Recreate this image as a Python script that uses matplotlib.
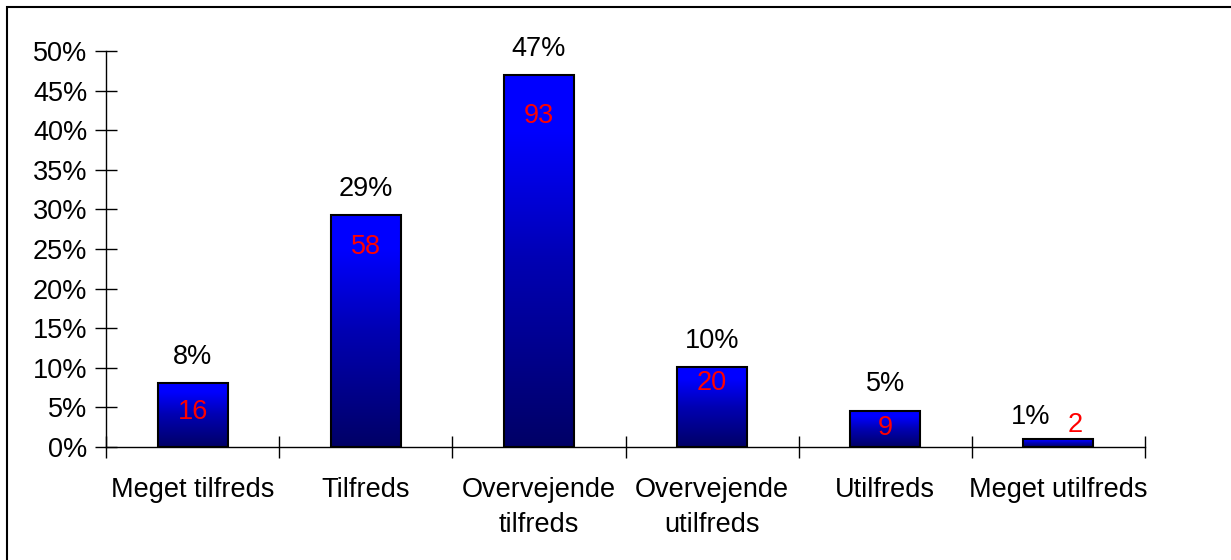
import numpy as np
import matplotlib
matplotlib.use("Agg")
import matplotlib.pyplot as plt
from matplotlib.patches import Rectangle
from matplotlib.ticker import FuncFormatter, FixedLocator

plt.rcParams['font.family'] = ['Liberation Sans', 'DejaVu Sans']

# data
categories = ["Meget tilfreds", "Tilfreds", "Overvejende\ntilfreds",
              "Overvejende\nutilfreds", "Utilfreds", "Meget utilfreds"]
percent = [8.1, 29.3, 47.0, 10.1, 4.5, 1.0]
pct_labels = ["8%", "29%", "47%", "10%", "5%", "1%"]
counts = [16, 58, 93, 20, 9, 2]

# label placement (pixels relative to bar top), style only
count_dy = [-29, -32, -41, -16, -17, 14]
count_dx = [0, 0, 0, 0, 0, 17]
pct_dx = [0, 0, 0, 0, 0, -28]
pct_dy = [26, 26, 26, 26, 27, 22]

W, H = 1231, 560
fig = plt.figure(figsize=(W / 100, H / 100), dpi=100)
ax = fig.add_axes([106 / W, 1 - 447 / H, (1145 - 106) / W, (447 - 51) / H])

x = np.arange(len(categories))
bars = ax.bar(x, percent, width=0.405, color='none', edgecolor='black',
              linewidth=1.5, zorder=3)

# vertical gradient inside each bar: bright blue on top -> navy at bottom
grad = np.linspace(0, 1, 256).reshape(-1, 1)
cmap = matplotlib.colors.LinearSegmentedColormap.from_list(
    "bluegrad", [(0.0, (0, 0, 0.40)), (0.5, (0, 0, 0.70)),
                 (0.85, (0, 0, 1.0)), (1.0, (0, 0, 1.0))])
for b in bars:
    x0, y0 = b.get_x(), b.get_y()
    w, h = b.get_width(), b.get_height()
    im = ax.imshow(grad, extent=[x0, x0 + w, y0, y0 + h], origin='lower',
                   cmap=cmap, aspect='auto', zorder=2)
    im.set_clip_path(b)

ax.set_xlim(-0.5, len(categories) - 0.5)
ax.set_ylim(0, 50)

# labels
fs = 19.5
for i, b in enumerate(bars):
    top = b.get_height()
    cx = b.get_x() + b.get_width() / 2
    ax.annotate(pct_labels[i], (cx, top), xytext=(pct_dx[i] * 0.72, pct_dy[i] * 0.72),
                textcoords='offset points', ha='center', va='center',
                fontsize=fs, color='black', zorder=4)
    ax.annotate(str(counts[i]), (cx, top), xytext=(count_dx[i] * 0.72, count_dy[i] * 0.72),
                textcoords='offset points', ha='center', va='center',
                fontsize=fs, color='red', zorder=4)

# axes styling
for s in ['top', 'right']:
    ax.spines[s].set_visible(False)
for s in ['left', 'bottom']:
    ax.spines[s].set_linewidth(1.0)
    ax.spines[s].set_color('black')

ax.yaxis.set_major_locator(FixedLocator(np.arange(0, 51, 5)))
ax.yaxis.set_major_formatter(FuncFormatter(lambda v, p: f"{v:.0f}%"))
ax.tick_params(axis='y', direction='inout', length=16, width=1.0,
               labelsize=fs, pad=5.5)

ax.set_xticks(x)
ax.set_xticklabels(categories, fontsize=fs, linespacing=1.45)
ax.tick_params(axis='x', which='major', length=0, pad=21.5)
ax.set_xticks(np.arange(-0.5, len(categories)), minor=True)
ax.tick_params(axis='x', which='minor', direction='inout', length=16, width=1.0)
for t in ax.get_xticklabels():
    t.set_verticalalignment('top')

# outer chart border (only left and top visible in frame)
border = Rectangle((7 / W, -0.1), 1.2, 1 - 7 / H + 0.1, transform=fig.transFigure,
                   fill=False, edgecolor='black', linewidth=1.5)
fig.add_artist(border)

fig.savefig("out.png", dpi=100)
